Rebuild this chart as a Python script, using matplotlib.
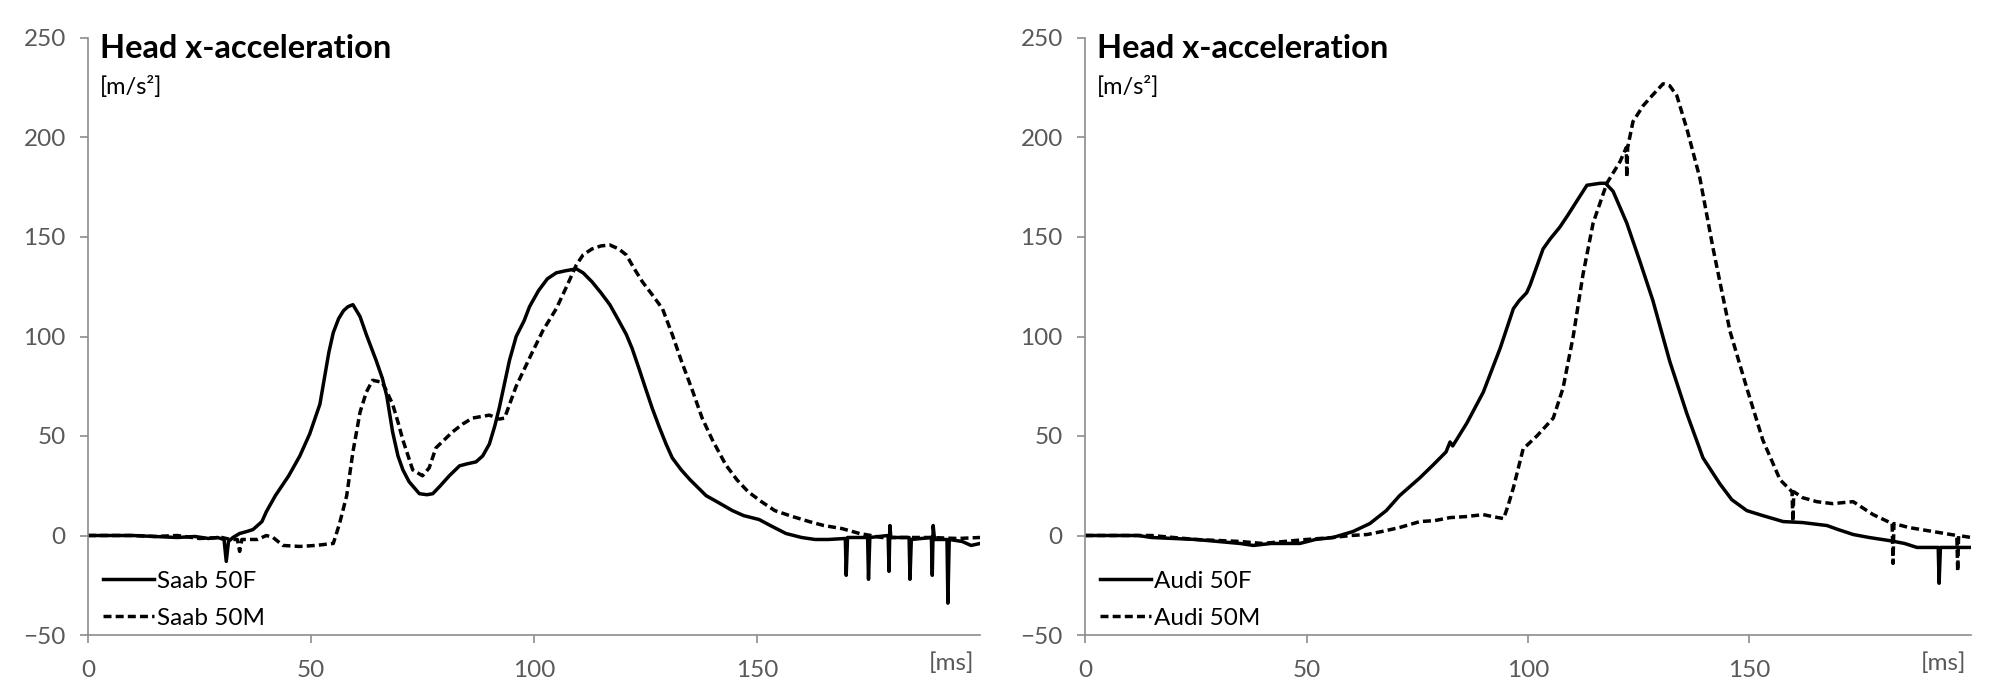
import matplotlib
matplotlib.use("Agg")
import matplotlib.pyplot as plt

plt.rcParams['font.family'] = ['Lato', 'DejaVu Sans']

# ---------------- data ----------------
saab_f_t = [0, 10, 15, 20, 24, 27, 29, 30.5, 31, 31.5, 32.5, 34, 35.6, 37, 39, 40, 42, 45, 47.5, 49.7,
            52, 53, 54, 55, 56.2, 57.3, 58.3, 59.4, 61, 62.4, 64.6, 66, 67, 68.3, 69.5, 70.6, 72, 74.3, 76, 77.3,
            79, 81, 83.3, 85, 87, 88.5, 90, 91.2, 92.2, 94.5, 96, 97.8, 99, 101, 103, 105, 107, 109.5,
            111, 113, 115, 117, 119, 120.7, 122, 123.6, 125, 126.5, 128, 129.6, 131, 133, 135, 138.6,
            141, 144.5, 147, 150.5, 153, 156.5, 160, 163, 166, 169.8, 170, 170.3, 174.8, 175, 175.3,
            179.4, 179.6, 179.8, 180, 184.1, 184.3, 184.6, 189.1, 189.3, 189.5, 189.8, 192.6, 192.8,
            193.1, 196, 198, 200]
saab_f_a = [0, 0, -0.5, -1, -0.5, -1.5, -1, -2, -13, -3, -1, 1, 2, 3, 7, 12, 20, 30, 40, 51,
            66, 79, 92, 102, 109, 113, 115, 116, 110, 101, 88, 79, 70, 52, 40, 33, 27, 21, 20.5, 21,
            25, 30, 35, 36, 37, 40, 46, 55, 64, 88, 100, 108, 115, 123, 129, 132, 133, 134,
            132, 127.5, 122, 116, 108, 101, 94, 83.5, 74, 64, 55, 46, 39, 33, 28, 20,
            17, 12.5, 10, 8, 5, 1, -1, -2, -2, -1.5, -20, -1, -1, -22, -1,
            0, -18, 5, -1, -1, -22, -2, -1, -20, 5, -2, -2, -34,
            -2, -3, -5, -4]

saab_m_t = [0, 10, 15, 20, 25, 30, 32, 33.5, 34, 34.5, 36, 38, 40, 41.5, 43.7, 47.5, 51, 55, 56.4, 58,
            59.4, 61, 62.4, 63.8, 66, 68.3, 69.5, 70.6, 72.8, 75, 76.5, 78, 81.7, 84, 86.2, 90, 92.2,
            93.4, 96, 99.6, 102, 105, 107.5, 109.5, 111, 113, 115, 117, 119, 120.7, 122.5, 124.3,
            126.5, 128.8, 131, 133, 135.5, 137.7, 140, 143, 145.5, 148, 151, 154, 158, 161.7, 165,
            169, 173, 178, 183, 189, 195, 200]
saab_m_a = [0, 0, -0.5, 0, -1.5, -1, -2, -2, -8, -2, -2, -2, 0, -1, -5, -5.5, -5, -4, 6, 20,
            42, 62, 72, 78, 77, 66, 57, 48, 33, 30, 34, 44, 52, 56, 59, 60.5, 58.5,
            59, 75, 92, 103, 114, 126, 136, 141, 144, 145.5, 146, 144, 141, 134, 127.5,
            121, 114, 101, 88, 73, 59, 48, 35.5, 28, 22, 17, 12.5, 9.5, 7, 5,
            3.5, 1, -1, -1, -1, -1.5, -1]

audi_f_t = [0, 12, 15, 20, 25, 30, 35, 38, 42, 45, 48.5, 52, 56, 60.5, 64.3, 68, 71, 75.6, 78.6, 81.5,
            82.4, 83, 86.2, 89.9, 93.7, 96.7, 98, 99.7, 100.5, 103.4, 105, 107.2, 109, 111, 113.3,
            116.3, 117.5, 119.2, 122.3, 125.3, 128.2, 132, 135.9, 139.5, 143.3, 146, 149.4, 153,
            157.6, 162, 167.5, 170, 173.4, 177, 181.7, 185, 187.8, 192.6, 192.8, 193.1, 196, 200]
audi_f_a = [0, 0, -1, -1.5, -2, -3, -4, -5, -4, -4, -4, -2, -1, 2, 6, 12.5, 20, 29, 35.5, 42,
            47, 45, 56.5, 72, 94, 114, 118, 122, 126, 144, 149, 155, 161, 168, 176,
            177, 177, 173, 157, 137.5, 118, 87.5, 61, 39, 26, 18, 12.5, 10,
            7, 6.5, 5, 3, 0.5, -1, -2.6, -4, -6, -6, -24, -6, -6, -6]

audi_m_t = [0, 15, 20, 25, 30, 35, 40, 45, 50, 56, 60, 63.7, 67, 71, 75.6, 79, 82.4, 86, 89.9, 92,
            94.5, 95.5, 96.7, 98.9, 102, 105.7, 107.9, 110.2, 112.4, 114.7, 117.8, 120.8, 122.2,
            122.3, 122.5, 123.7, 126, 128, 130.5, 132, 133.6, 135.9, 138.8, 141.8, 145.6, 149.4,
            153, 156.9, 159.6, 159.8, 160, 162, 165.2, 168.8, 171, 173.4, 177.9, 182.2, 182.4,
            182.6, 186, 191.4, 196.8, 197, 197.2, 200]
audi_m_a = [0, 0, -1, -2, -2.5, -3, -4, -3, -2, -1, 0, 0.5, 2, 4, 7, 7.5, 9, 9.5, 10.5, 9.5,
            8.5, 15, 24, 43.5, 50, 59, 74, 100, 131, 157, 177, 188, 195,
            180, 195, 208, 216, 221, 227, 226, 221, 204, 179.6, 144, 102.6, 74,
            48, 28, 22, 7, 22, 19, 17, 16, 16.5, 17, 10.5, 6, -14,
            6, 4, 2, 0, -18, 0, -1]

panels = [
    {"label_f": "Saab 50F", "label_m": "Saab 50M",
     "f": (saab_f_t, saab_f_a), "m": (saab_m_t, saab_m_a)},
    {"label_f": "Audi 50F", "label_m": "Audi 50M",
     "f": (audi_f_t, audi_f_a), "m": (audi_m_t, audi_m_a)},
]

title_text = "Head x-acceleration"
unit_text = "[m/s²]"
xunit_text = "[ms]"
x_ticks = [0, 50, 100, 150]
y_ticks = [-50, 0, 50, 100, 150, 200, 250]

# ---------------- figure ----------------
W, H = 1999, 687
fig = plt.figure(figsize=(W / 100, H / 100), dpi=100)
axes_rects = [
    [88 / W, (H - 635) / H, 892 / W, 597 / H],
    [1085 / W, (H - 635) / H, 886 / W, 597 / H],
]

spine_col = "#8c8c8c"
tick_col = "#595959"

for rect, p in zip(axes_rects, panels):
    ax = fig.add_axes(rect)
    ax.plot(*p["f"], color="black", lw=2.5, solid_joinstyle="round", label=p["label_f"])
    ax.plot(*p["m"], color="black", lw=2.5, linestyle=(0, (2.3, 1.2)), label=p["label_m"])
    ax.set_xlim(0, 200)
    ax.set_ylim(-50, 250)
    ax.set_xticks(x_ticks)
    ax.set_yticks(y_ticks)
    for s in ["top", "right"]:
        ax.spines[s].set_visible(False)
    for s in ["left", "bottom"]:
        ax.spines[s].set_color(spine_col)
        ax.spines[s].set_linewidth(1.2)
    ax.tick_params(axis="both", direction="out", length=6, width=1.2, color=spine_col,
                   labelcolor=tick_col, labelsize=17.5)
    ax.tick_params(axis="y", pad=10)
    ax.tick_params(axis="x", pad=12)

    ax.text(12 / 892, (635 - 58) / 597, title_text, transform=ax.transAxes,
            fontsize=23.5, fontweight="bold", ha="left", va="baseline", color="black")
    ax.text(12 / 892, (635 - 87) / 597, unit_text, transform=ax.transAxes,
            fontsize=17, ha="left", va="center", color="black")
    ax.text((952 - 88) / 892, (635 - 663) / 597, xunit_text, transform=ax.transAxes,
            fontsize=17.5, ha="center", va="center", color=tick_col, clip_on=False)

    leg = ax.legend(loc="lower left", bbox_to_anchor=(15 / 892, 6 / 597), frameon=False,
                    fontsize=17.5, handlelength=2.1, handletextpad=0.12, labelspacing=0.66,
                    borderpad=0, borderaxespad=0)
    for t in leg.get_texts():
        t.set_color("black")

fig.savefig("out.png", dpi=100, facecolor="white")
